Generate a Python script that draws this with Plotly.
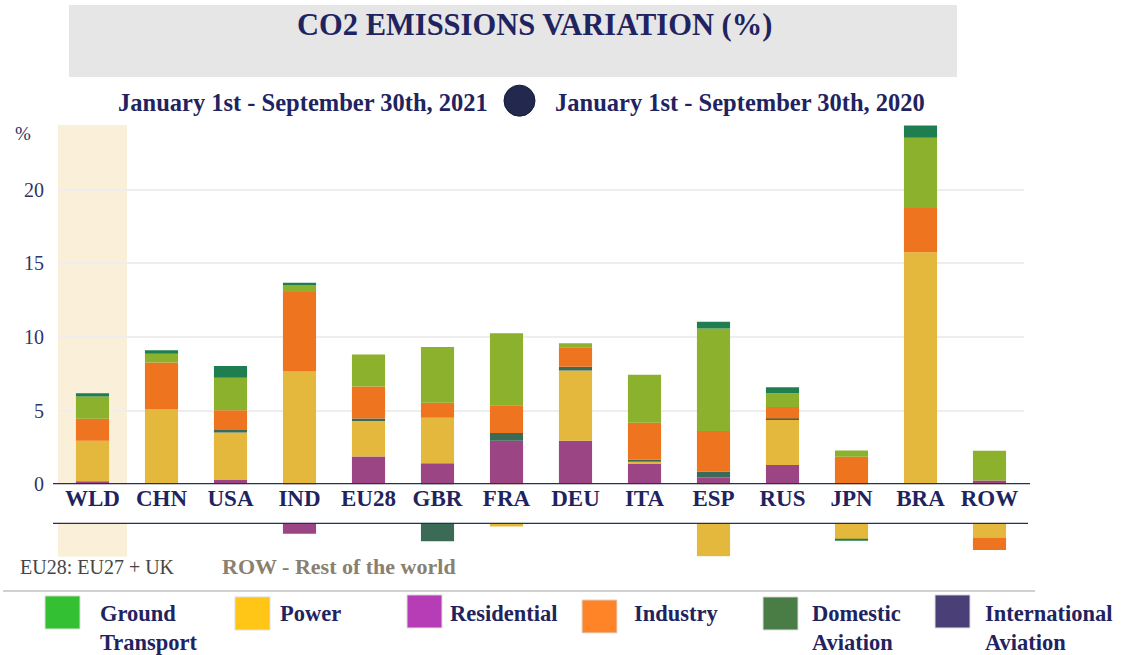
import plotly.graph_objects as go

# Regions / countries
countries = ["WLD", "CHN", "USA", "IND", "EU28", "GBR", "FRA", "DEU", "ITA", "ESP", "RUS", "JPN", "BRA", "ROW"]

# Sector contributions to CO2 emissions variation (%), 2021 vs 2020 (Jan 1 - Sep 30)
residential = [0.20, 0.00, 0.28, -0.75, 1.88, 1.42, 2.96, 2.96, 1.44, 0.45, 1.30, 0.00, 0.00, 0.25]
power = [2.76, 5.07, 3.23, 7.65, 2.42, 3.10, -0.25, 4.77, 0.08, -2.28, 3.07, -1.10, 15.75, -1.00]
intl_aviation = [0.00, 0.00, 0.18, 0.00, 0.16, -1.25, 0.52, 0.25, 0.16, 0.41, 0.09, 0.00, 0.00, 0.00]
industry = [1.49, 3.19, 1.34, 5.40, 2.17, 1.02, 1.88, 1.33, 2.49, 2.76, 0.79, 1.86, 3.02, -0.85]
ground_transport = [1.51, 0.61, 2.21, 0.52, 2.19, 3.78, 4.90, 0.27, 3.27, 6.96, 0.93, 0.43, 4.76, 2.03]
dom_aviation = [0.22, 0.23, 0.79, 0.11, 0.00, 0.00, 0.00, 0.00, 0.00, 0.45, 0.41, -0.12, 0.83, 0.00]

# Stacking order (bottom to top) and bar colours
series = [
    ("Residential", residential, "#9c4585"),
    ("Power", power, "#e3b83d"),
    ("International Aviation", intl_aviation, "#3b6b57"),
    ("Industry", industry, "#ee741f"),
    ("Ground Transport", ground_transport, "#8bb12d"),
    ("Domestic Aviation", dom_aviation, "#1e7e50"),
]

# Legend swatches
legend_names = ["Ground<br>Transport", "Power", "Residential", "Industry", "Domestic<br>Aviation", "International<br>Aviation"]
legend_colors = ["#33c133", "#ffc617", "#b63db5", "#ff8427", "#4a7c45", "#4b3f78"]

y_ticks = [0, 5, 10, 15, 20]

# Page size and the grid used for placing decorations
W, H = 1121, 655
FIG_H = 667
NAVY = "#1f2460"
SERIF = "Liberation Serif, Times New Roman, serif"


def px(x):
    return x / W


def py(y):
    return 1 - y / H


fig = go.Figure()

# Positive part of every stack on the upper axis, negative part on the lower axis
for name, vals, col in series:
    fig.add_trace(go.Bar(x=countries, y=vals, name=name, marker=dict(color=col, line=dict(width=0)),
                         xaxis="x", yaxis="y", showlegend=False))
for name, vals, col in series:
    fig.add_trace(go.Bar(x=countries, y=vals, name=name, marker=dict(color=col, line=dict(width=0)),
                         xaxis="x2", yaxis="y2", showlegend=False))

x_dom = [px(58), px(1024)]
y_top_dom = [py(483.5), py(124.8)]
y_bot_dom = [py(555.8), py(522)]

shapes = []
# Highlight band behind the world total
shapes.append(dict(type="rect", xref="x", yref="y domain", x0=-0.5, x1=0.5, y0=0, y1=1,
                   fillcolor="#faf0d9", line=dict(width=0), layer="below"))
shapes.append(dict(type="rect", xref="x2", yref="y2 domain", x0=-0.5, x1=0.5, y0=0, y1=1,
                   fillcolor="#faf0d9", line=dict(width=0), layer="below"))
# Zero lines framing the category labels
shapes.append(dict(type="line", xref="paper", yref="y", x0=px(53), x1=px(1030), y0=0, y1=0,
                   line=dict(color="#1f3558", width=2.5)))
shapes.append(dict(type="line", xref="paper", yref="y2", x0=px(53), x1=px(1028), y0=0, y1=0,
                   line=dict(color="#1f3558", width=2.5)))
# Title panel
shapes.append(dict(type="rect", xref="paper", yref="paper", x0=px(69), x1=px(957), y0=py(77), y1=py(5),
                   fillcolor="#e6e6e6", line=dict(width=0), layer="below"))
# Period marker
shapes.append(dict(type="circle", xref="paper", yref="paper", x0=px(504), x1=px(535), y0=py(116), y1=py(85),
                   fillcolor="#23284f", line=dict(color="#151936", width=1)))
# Separator above legend
shapes.append(dict(type="line", xref="paper", yref="paper", x0=px(3), x1=px(1035), y0=py(590), y1=py(590),
                   line=dict(color="#d0d0d0", width=2)))

annotations = [
    dict(text="<b>CO2 EMISSIONS VARIATION (%)</b>", x=px(534), y=py(25), xref="paper", yref="paper",
         showarrow=False, font=dict(family=SERIF, size=30.5, color=NAVY), xanchor="center", yanchor="middle"),
    dict(text="<b>January 1st - September 30th, 2021</b>", x=px(490), y=py(102), xref="paper", yref="paper",
         showarrow=False, font=dict(family=SERIF, size=24.5, color=NAVY), xanchor="right", yanchor="middle"),
    dict(text="<b>January 1st - September 30th, 2020</b>", x=px(553), y=py(102), xref="paper", yref="paper",
         showarrow=False, font=dict(family=SERIF, size=24.5, color=NAVY), xanchor="left", yanchor="middle"),
    dict(text="%", x=px(23), y=py(133), xref="paper", yref="paper", showarrow=False,
         font=dict(family=SERIF, size=19, color="#2e3566"), xanchor="center", yanchor="middle"),
    dict(text="EU28: EU27 + UK", x=px(18), y=py(566), xref="paper", yref="paper", showarrow=False,
         font=dict(family=SERIF, size=20, color="#454545"), xanchor="left", yanchor="middle"),
    dict(text="<b>ROW - Rest of the world</b>", x=px(220), y=py(566), xref="paper", yref="paper", showarrow=False,
         font=dict(family=SERIF, size=22, color="#8a8070"), xanchor="left", yanchor="middle"),
]

# Legend: coloured squares with labels
sq_x = [45, 235, 407, 582, 763, 935]
txt_x = [98, 278, 448, 632, 810, 983]
sq_y = [595, 596, 594, 599, 596, 594]
for i, (lab, col) in enumerate(zip(legend_names, legend_colors)):
    shapes.append(dict(type="rect", xref="paper", yref="paper",
                       x0=px(sq_x[i]), x1=px(sq_x[i] + 35), y0=py(sq_y[i] + 33), y1=py(sq_y[i]),
                       fillcolor=col, line=dict(color="#dddddd", width=1)))
    annotations.append(dict(text="<b>" + lab + "</b>", x=px(txt_x[i]), y=py(598), xref="paper", yref="paper",
                            showarrow=False, align="left", xanchor="left", yanchor="top",
                            font=dict(family=SERIF, size=22.5, color=NAVY)))

fig.update_layout(
    width=W, height=FIG_H,
    margin=dict(l=0, r=0, t=0, b=0),
    paper_bgcolor="white", plot_bgcolor="rgba(0,0,0,0)",
    barmode="relative", bargap=0.52,
    shapes=shapes, annotations=annotations,
    xaxis=dict(domain=x_dom, anchor="y", range=[-0.5, 13.5], type="category",
               showgrid=False, zeroline=False, showline=False,
               ticks="", ticklabelstandoff=-2,
               tickfont=dict(family=SERIF, size=23, color=NAVY, weight="bold")),
    xaxis2=dict(domain=x_dom, anchor="y2", matches="x", type="category",
                showgrid=False, zeroline=False, showline=False, showticklabels=False),
    yaxis=dict(domain=y_top_dom, anchor="x", range=[0, 24.4], tickvals=y_ticks,
               showgrid=True, gridcolor="#eeeeee", gridwidth=2, zeroline=False, showline=False,
               ticks="outside", ticklen=9, tickcolor="rgba(0,0,0,0)",
               tickfont=dict(family=SERIF, size=20, color="#2e3566")),
    yaxis2=dict(domain=y_bot_dom, anchor="x2", range=[-2.3, 0],
                showgrid=False, zeroline=False, showline=False, showticklabels=False),
)

fig.write_html("out.html")
